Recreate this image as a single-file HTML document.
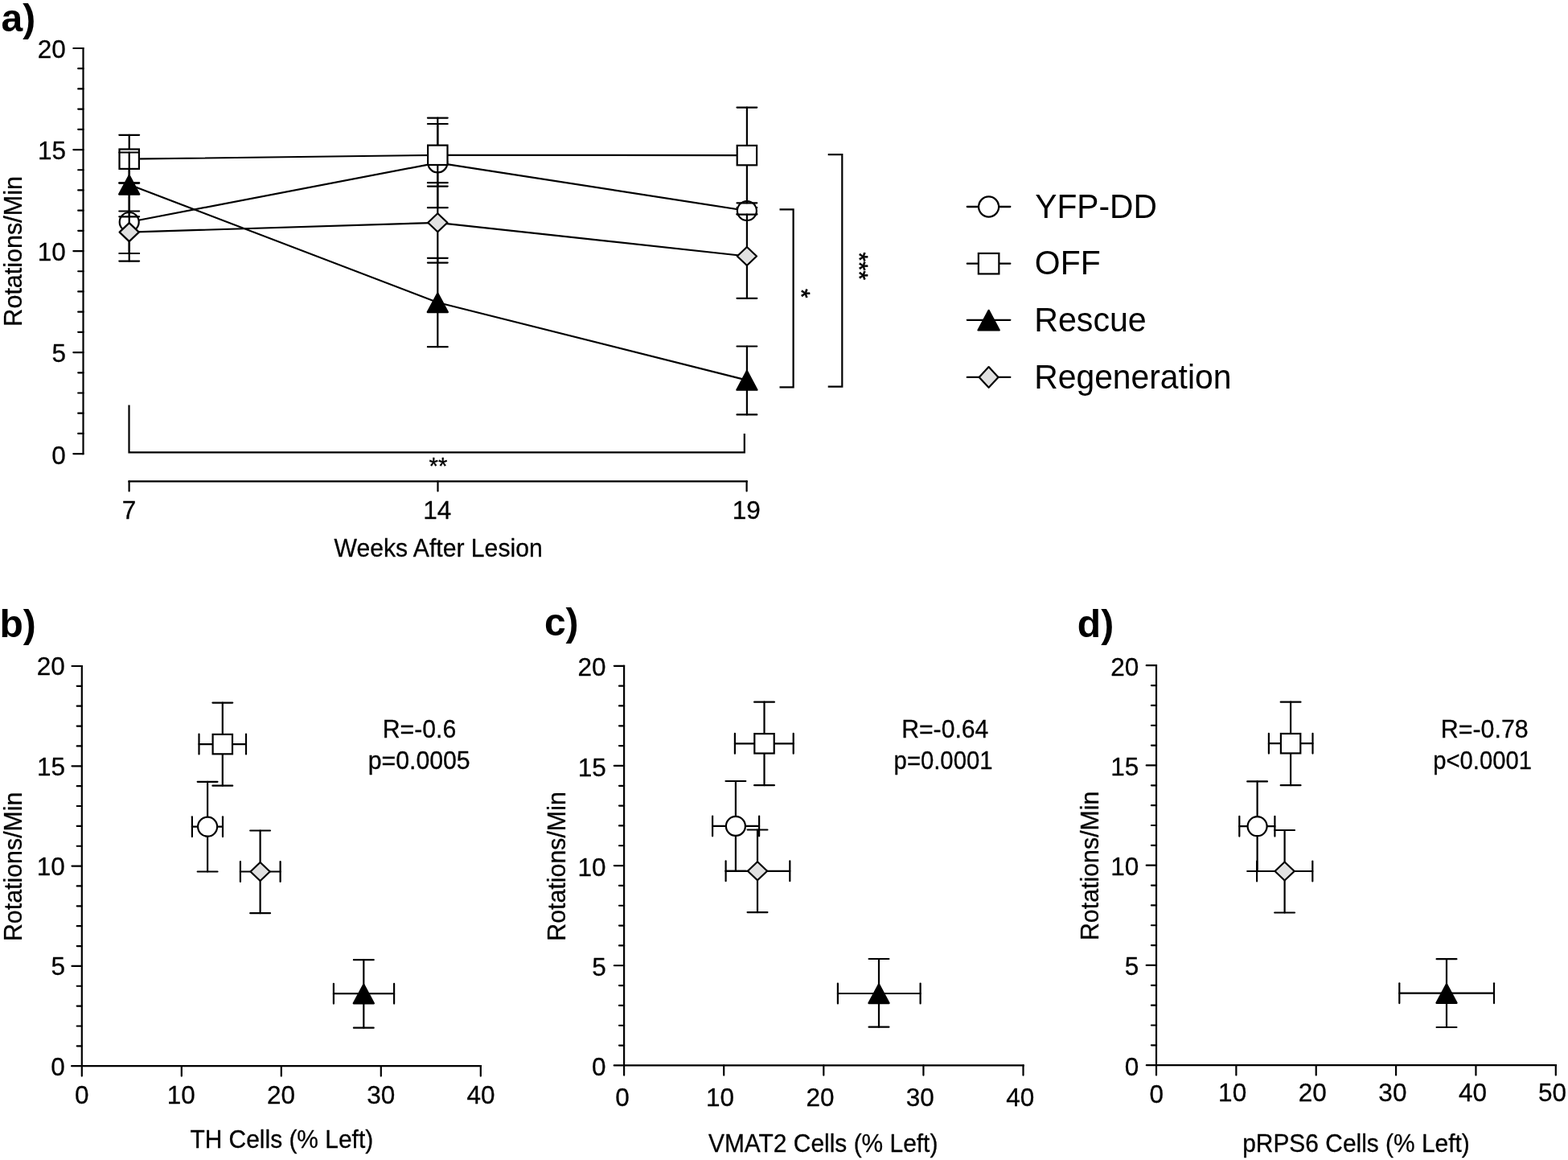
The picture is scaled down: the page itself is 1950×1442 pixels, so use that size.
<!DOCTYPE html>
<html><head><meta charset="utf-8"><title>Figure</title>
<style>html,body{margin:0;padding:0;background:#fff;} svg{display:block;}</style></head>
<body><svg width="1950" height="1442" viewBox="0 0 1950 1442">
<rect width="1950" height="1442" fill="#fff"/>
<g stroke="#000" fill="none" stroke-linecap="butt">
<line x1="103.50" y1="58.90" x2="103.50" y2="565.20" stroke-width="2.2"/>
<line x1="91.30" y1="564.10" x2="103.50" y2="564.10" stroke-width="2.2" stroke-linecap="round"/>
<line x1="97.20" y1="538.89" x2="103.50" y2="538.89" stroke-width="2.2" stroke-linecap="round"/>
<line x1="97.20" y1="513.69" x2="103.50" y2="513.69" stroke-width="2.2" stroke-linecap="round"/>
<line x1="97.20" y1="488.49" x2="103.50" y2="488.49" stroke-width="2.2" stroke-linecap="round"/>
<line x1="97.20" y1="463.28" x2="103.50" y2="463.28" stroke-width="2.2" stroke-linecap="round"/>
<line x1="91.30" y1="438.08" x2="103.50" y2="438.08" stroke-width="2.2" stroke-linecap="round"/>
<line x1="97.20" y1="412.87" x2="103.50" y2="412.87" stroke-width="2.2" stroke-linecap="round"/>
<line x1="97.20" y1="387.67" x2="103.50" y2="387.67" stroke-width="2.2" stroke-linecap="round"/>
<line x1="97.20" y1="362.46" x2="103.50" y2="362.46" stroke-width="2.2" stroke-linecap="round"/>
<line x1="97.20" y1="337.26" x2="103.50" y2="337.26" stroke-width="2.2" stroke-linecap="round"/>
<line x1="91.30" y1="312.05" x2="103.50" y2="312.05" stroke-width="2.2" stroke-linecap="round"/>
<line x1="97.20" y1="286.85" x2="103.50" y2="286.85" stroke-width="2.2" stroke-linecap="round"/>
<line x1="97.20" y1="261.64" x2="103.50" y2="261.64" stroke-width="2.2" stroke-linecap="round"/>
<line x1="97.20" y1="236.44" x2="103.50" y2="236.44" stroke-width="2.2" stroke-linecap="round"/>
<line x1="97.20" y1="211.23" x2="103.50" y2="211.23" stroke-width="2.2" stroke-linecap="round"/>
<line x1="91.30" y1="186.03" x2="103.50" y2="186.03" stroke-width="2.2" stroke-linecap="round"/>
<line x1="97.20" y1="160.82" x2="103.50" y2="160.82" stroke-width="2.2" stroke-linecap="round"/>
<line x1="97.20" y1="135.62" x2="103.50" y2="135.62" stroke-width="2.2" stroke-linecap="round"/>
<line x1="97.20" y1="110.41" x2="103.50" y2="110.41" stroke-width="2.2" stroke-linecap="round"/>
<line x1="97.20" y1="85.21" x2="103.50" y2="85.21" stroke-width="2.2" stroke-linecap="round"/>
<line x1="91.30" y1="60.00" x2="103.50" y2="60.00" stroke-width="2.2" stroke-linecap="round"/>
<line x1="159.50" y1="598.30" x2="929.70" y2="598.30" stroke-width="2.2"/>
<line x1="160.60" y1="598.30" x2="160.60" y2="610.40" stroke-width="2.2" stroke-linecap="round"/>
<line x1="544.50" y1="598.30" x2="544.50" y2="610.40" stroke-width="2.2" stroke-linecap="round"/>
<line x1="928.60" y1="598.30" x2="928.60" y2="610.40" stroke-width="2.2" stroke-linecap="round"/>
<polyline points="160.70,276.00 544.30,202.40 928.90,262.00" fill="none" stroke-width="2.2" stroke-linejoin="round"/>
<line x1="160.70" y1="227.40" x2="160.70" y2="324.60" stroke-width="2.2" stroke-linecap="round"/>
<line x1="148.30" y1="227.40" x2="173.10" y2="227.40" stroke-width="2.2" stroke-linecap="round"/>
<line x1="148.30" y1="324.60" x2="173.10" y2="324.60" stroke-width="2.2" stroke-linecap="round"/>
<line x1="544.30" y1="146.60" x2="544.30" y2="258.20" stroke-width="2.2" stroke-linecap="round"/>
<line x1="531.90" y1="146.60" x2="556.70" y2="146.60" stroke-width="2.2" stroke-linecap="round"/>
<line x1="531.90" y1="258.20" x2="556.70" y2="258.20" stroke-width="2.2" stroke-linecap="round"/>
<line x1="928.90" y1="258.00" x2="928.90" y2="266.00" stroke-width="2.2" stroke-linecap="round"/>
<line x1="916.50" y1="258.00" x2="941.30" y2="258.00" stroke-width="2.2" stroke-linecap="round"/>
<line x1="916.50" y1="266.00" x2="941.30" y2="266.00" stroke-width="2.2" stroke-linecap="round"/>
<circle cx="160.70" cy="276.00" r="12.0" fill="#fff" stroke-width="2.2"/>
<circle cx="544.30" cy="202.40" r="12.0" fill="#fff" stroke-width="2.2"/>
<circle cx="928.90" cy="262.00" r="12.0" fill="#fff" stroke-width="2.2"/>
<polyline points="160.70,197.70 544.30,192.80 928.90,193.10" fill="none" stroke-width="2.2" stroke-linejoin="round"/>
<line x1="160.70" y1="167.80" x2="160.70" y2="227.60" stroke-width="2.2" stroke-linecap="round"/>
<line x1="148.30" y1="167.80" x2="173.10" y2="167.80" stroke-width="2.2" stroke-linecap="round"/>
<line x1="148.30" y1="227.60" x2="173.10" y2="227.60" stroke-width="2.2" stroke-linecap="round"/>
<line x1="544.30" y1="154.00" x2="544.30" y2="231.60" stroke-width="2.2" stroke-linecap="round"/>
<line x1="531.90" y1="154.00" x2="556.70" y2="154.00" stroke-width="2.2" stroke-linecap="round"/>
<line x1="531.90" y1="231.60" x2="556.70" y2="231.60" stroke-width="2.2" stroke-linecap="round"/>
<line x1="928.90" y1="133.60" x2="928.90" y2="252.30" stroke-width="2.2" stroke-linecap="round"/>
<line x1="916.50" y1="133.60" x2="941.30" y2="133.60" stroke-width="2.2" stroke-linecap="round"/>
<line x1="916.50" y1="252.30" x2="941.30" y2="252.30" stroke-width="2.2" stroke-linecap="round"/>
<rect x="148.50" y="185.50" width="24.40" height="24.40" fill="#fff" stroke-width="2.2"/>
<rect x="532.10" y="180.60" width="24.40" height="24.40" fill="#fff" stroke-width="2.2"/>
<rect x="916.70" y="180.90" width="24.40" height="24.40" fill="#fff" stroke-width="2.2"/>
<polyline points="160.70,229.50 544.30,376.00 928.90,472.60" fill="none" stroke-width="2.2" stroke-linejoin="round"/>
<line x1="160.70" y1="189.50" x2="160.70" y2="269.30" stroke-width="2.2" stroke-linecap="round"/>
<line x1="148.30" y1="189.50" x2="173.10" y2="189.50" stroke-width="2.2" stroke-linecap="round"/>
<line x1="148.30" y1="269.30" x2="173.10" y2="269.30" stroke-width="2.2" stroke-linecap="round"/>
<line x1="544.30" y1="320.80" x2="544.30" y2="431.20" stroke-width="2.2" stroke-linecap="round"/>
<line x1="531.90" y1="320.80" x2="556.70" y2="320.80" stroke-width="2.2" stroke-linecap="round"/>
<line x1="531.90" y1="431.20" x2="556.70" y2="431.20" stroke-width="2.2" stroke-linecap="round"/>
<line x1="928.90" y1="430.50" x2="928.90" y2="515.40" stroke-width="2.2" stroke-linecap="round"/>
<line x1="916.50" y1="430.50" x2="941.30" y2="430.50" stroke-width="2.2" stroke-linecap="round"/>
<line x1="916.50" y1="515.40" x2="941.30" y2="515.40" stroke-width="2.2" stroke-linecap="round"/>
<path d="M160.70,218.00L173.30,241.60L148.10,241.60Z" fill="#000" stroke-width="2.2" stroke-linejoin="round"/>
<path d="M544.30,364.50L556.90,388.10L531.70,388.10Z" fill="#000" stroke-width="2.2" stroke-linejoin="round"/>
<path d="M928.90,461.10L941.50,484.70L916.30,484.70Z" fill="#000" stroke-width="2.2" stroke-linejoin="round"/>
<polyline points="160.70,288.60 544.30,276.80 928.90,318.50" fill="none" stroke-width="2.2" stroke-linejoin="round"/>
<line x1="160.70" y1="262.50" x2="160.70" y2="315.00" stroke-width="2.2" stroke-linecap="round"/>
<line x1="148.30" y1="262.50" x2="173.10" y2="262.50" stroke-width="2.2" stroke-linecap="round"/>
<line x1="148.30" y1="315.00" x2="173.10" y2="315.00" stroke-width="2.2" stroke-linecap="round"/>
<line x1="544.30" y1="227.20" x2="544.30" y2="326.60" stroke-width="2.2" stroke-linecap="round"/>
<line x1="531.90" y1="227.20" x2="556.70" y2="227.20" stroke-width="2.2" stroke-linecap="round"/>
<line x1="531.90" y1="326.60" x2="556.70" y2="326.60" stroke-width="2.2" stroke-linecap="round"/>
<line x1="928.90" y1="266.60" x2="928.90" y2="370.80" stroke-width="2.2" stroke-linecap="round"/>
<line x1="916.50" y1="266.60" x2="941.30" y2="266.60" stroke-width="2.2" stroke-linecap="round"/>
<line x1="916.50" y1="370.80" x2="941.30" y2="370.80" stroke-width="2.2" stroke-linecap="round"/>
<path d="M160.70,277.10L172.80,288.60L160.70,300.10L148.60,288.60Z" fill="#e1e1e1" stroke-width="2.2" stroke-linejoin="round"/>
<path d="M544.30,265.30L556.40,276.80L544.30,288.30L532.20,276.80Z" fill="#e1e1e1" stroke-width="2.2" stroke-linejoin="round"/>
<path d="M928.90,307.00L941.00,318.50L928.90,330.00L916.80,318.50Z" fill="#e1e1e1" stroke-width="2.2" stroke-linejoin="round"/>
<path d="M969.5,260.4H986.6V481.4H969.5" stroke-width="2.2" fill="none" />
<path d="M1029.7,192.2H1047.3V480.7H1029.7" stroke-width="2.2" fill="none" />
<path d="M160.5,503.6V562.4H925.8V538.9" stroke-width="2.2" fill="none" />
<line x1="101.80" y1="826.90" x2="101.80" y2="1325.20" stroke-width="2.2"/>
<line x1="95.70" y1="1300.34" x2="101.80" y2="1300.34" stroke-width="2.2" stroke-linecap="round"/>
<line x1="95.70" y1="1275.48" x2="101.80" y2="1275.48" stroke-width="2.2" stroke-linecap="round"/>
<line x1="95.70" y1="1250.62" x2="101.80" y2="1250.62" stroke-width="2.2" stroke-linecap="round"/>
<line x1="95.70" y1="1225.76" x2="101.80" y2="1225.76" stroke-width="2.2" stroke-linecap="round"/>
<line x1="89.50" y1="1200.90" x2="101.80" y2="1200.90" stroke-width="2.2" stroke-linecap="round"/>
<line x1="95.70" y1="1176.04" x2="101.80" y2="1176.04" stroke-width="2.2" stroke-linecap="round"/>
<line x1="95.70" y1="1151.18" x2="101.80" y2="1151.18" stroke-width="2.2" stroke-linecap="round"/>
<line x1="95.70" y1="1126.32" x2="101.80" y2="1126.32" stroke-width="2.2" stroke-linecap="round"/>
<line x1="95.70" y1="1101.46" x2="101.80" y2="1101.46" stroke-width="2.2" stroke-linecap="round"/>
<line x1="89.50" y1="1076.60" x2="101.80" y2="1076.60" stroke-width="2.2" stroke-linecap="round"/>
<line x1="95.70" y1="1051.74" x2="101.80" y2="1051.74" stroke-width="2.2" stroke-linecap="round"/>
<line x1="95.70" y1="1026.88" x2="101.80" y2="1026.88" stroke-width="2.2" stroke-linecap="round"/>
<line x1="95.70" y1="1002.02" x2="101.80" y2="1002.02" stroke-width="2.2" stroke-linecap="round"/>
<line x1="95.70" y1="977.16" x2="101.80" y2="977.16" stroke-width="2.2" stroke-linecap="round"/>
<line x1="89.50" y1="952.30" x2="101.80" y2="952.30" stroke-width="2.2" stroke-linecap="round"/>
<line x1="95.70" y1="927.44" x2="101.80" y2="927.44" stroke-width="2.2" stroke-linecap="round"/>
<line x1="95.70" y1="902.58" x2="101.80" y2="902.58" stroke-width="2.2" stroke-linecap="round"/>
<line x1="95.70" y1="877.72" x2="101.80" y2="877.72" stroke-width="2.2" stroke-linecap="round"/>
<line x1="95.70" y1="852.86" x2="101.80" y2="852.86" stroke-width="2.2" stroke-linecap="round"/>
<line x1="89.50" y1="828.00" x2="101.80" y2="828.00" stroke-width="2.2" stroke-linecap="round"/>
<line x1="89.10" y1="1325.20" x2="597.80" y2="1325.20" stroke-width="2.2" stroke-linecap="round"/>
<line x1="597.80" y1="1325.20" x2="598.90" y2="1325.20" stroke-width="2.2"/>
<line x1="101.80" y1="1325.20" x2="101.80" y2="1337.60" stroke-width="2.2" stroke-linecap="round"/>
<line x1="225.80" y1="1325.20" x2="225.80" y2="1337.60" stroke-width="2.2" stroke-linecap="round"/>
<line x1="349.80" y1="1325.20" x2="349.80" y2="1337.60" stroke-width="2.2" stroke-linecap="round"/>
<line x1="473.80" y1="1325.20" x2="473.80" y2="1337.60" stroke-width="2.2" stroke-linecap="round"/>
<line x1="597.80" y1="1325.20" x2="597.80" y2="1337.60" stroke-width="2.2" stroke-linecap="round"/>
<line x1="776.10" y1="826.70" x2="776.10" y2="1324.40" stroke-width="2.2"/>
<line x1="770.00" y1="1299.57" x2="776.10" y2="1299.57" stroke-width="2.2" stroke-linecap="round"/>
<line x1="770.00" y1="1274.74" x2="776.10" y2="1274.74" stroke-width="2.2" stroke-linecap="round"/>
<line x1="770.00" y1="1249.91" x2="776.10" y2="1249.91" stroke-width="2.2" stroke-linecap="round"/>
<line x1="770.00" y1="1225.08" x2="776.10" y2="1225.08" stroke-width="2.2" stroke-linecap="round"/>
<line x1="763.80" y1="1200.25" x2="776.10" y2="1200.25" stroke-width="2.2" stroke-linecap="round"/>
<line x1="770.00" y1="1175.42" x2="776.10" y2="1175.42" stroke-width="2.2" stroke-linecap="round"/>
<line x1="770.00" y1="1150.59" x2="776.10" y2="1150.59" stroke-width="2.2" stroke-linecap="round"/>
<line x1="770.00" y1="1125.76" x2="776.10" y2="1125.76" stroke-width="2.2" stroke-linecap="round"/>
<line x1="770.00" y1="1100.93" x2="776.10" y2="1100.93" stroke-width="2.2" stroke-linecap="round"/>
<line x1="763.80" y1="1076.10" x2="776.10" y2="1076.10" stroke-width="2.2" stroke-linecap="round"/>
<line x1="770.00" y1="1051.27" x2="776.10" y2="1051.27" stroke-width="2.2" stroke-linecap="round"/>
<line x1="770.00" y1="1026.44" x2="776.10" y2="1026.44" stroke-width="2.2" stroke-linecap="round"/>
<line x1="770.00" y1="1001.61" x2="776.10" y2="1001.61" stroke-width="2.2" stroke-linecap="round"/>
<line x1="770.00" y1="976.78" x2="776.10" y2="976.78" stroke-width="2.2" stroke-linecap="round"/>
<line x1="763.80" y1="951.95" x2="776.10" y2="951.95" stroke-width="2.2" stroke-linecap="round"/>
<line x1="770.00" y1="927.12" x2="776.10" y2="927.12" stroke-width="2.2" stroke-linecap="round"/>
<line x1="770.00" y1="902.29" x2="776.10" y2="902.29" stroke-width="2.2" stroke-linecap="round"/>
<line x1="770.00" y1="877.46" x2="776.10" y2="877.46" stroke-width="2.2" stroke-linecap="round"/>
<line x1="770.00" y1="852.63" x2="776.10" y2="852.63" stroke-width="2.2" stroke-linecap="round"/>
<line x1="763.80" y1="827.80" x2="776.10" y2="827.80" stroke-width="2.2" stroke-linecap="round"/>
<line x1="763.70" y1="1324.40" x2="1272.50" y2="1324.40" stroke-width="2.2" stroke-linecap="round"/>
<line x1="1272.50" y1="1324.40" x2="1273.60" y2="1324.40" stroke-width="2.2"/>
<line x1="776.10" y1="1324.40" x2="776.10" y2="1336.60" stroke-width="2.2" stroke-linecap="round"/>
<line x1="900.20" y1="1324.40" x2="900.20" y2="1336.60" stroke-width="2.2" stroke-linecap="round"/>
<line x1="1024.30" y1="1324.40" x2="1024.30" y2="1336.60" stroke-width="2.2" stroke-linecap="round"/>
<line x1="1148.40" y1="1324.40" x2="1148.40" y2="1336.60" stroke-width="2.2" stroke-linecap="round"/>
<line x1="1272.50" y1="1324.40" x2="1272.50" y2="1336.60" stroke-width="2.2" stroke-linecap="round"/>
<line x1="1438.00" y1="826.10" x2="1438.00" y2="1324.20" stroke-width="2.2"/>
<line x1="1431.90" y1="1299.35" x2="1438.00" y2="1299.35" stroke-width="2.2" stroke-linecap="round"/>
<line x1="1431.90" y1="1274.50" x2="1438.00" y2="1274.50" stroke-width="2.2" stroke-linecap="round"/>
<line x1="1431.90" y1="1249.65" x2="1438.00" y2="1249.65" stroke-width="2.2" stroke-linecap="round"/>
<line x1="1431.90" y1="1224.80" x2="1438.00" y2="1224.80" stroke-width="2.2" stroke-linecap="round"/>
<line x1="1425.70" y1="1199.95" x2="1438.00" y2="1199.95" stroke-width="2.2" stroke-linecap="round"/>
<line x1="1431.90" y1="1175.10" x2="1438.00" y2="1175.10" stroke-width="2.2" stroke-linecap="round"/>
<line x1="1431.90" y1="1150.25" x2="1438.00" y2="1150.25" stroke-width="2.2" stroke-linecap="round"/>
<line x1="1431.90" y1="1125.40" x2="1438.00" y2="1125.40" stroke-width="2.2" stroke-linecap="round"/>
<line x1="1431.90" y1="1100.55" x2="1438.00" y2="1100.55" stroke-width="2.2" stroke-linecap="round"/>
<line x1="1425.70" y1="1075.70" x2="1438.00" y2="1075.70" stroke-width="2.2" stroke-linecap="round"/>
<line x1="1431.90" y1="1050.85" x2="1438.00" y2="1050.85" stroke-width="2.2" stroke-linecap="round"/>
<line x1="1431.90" y1="1026.00" x2="1438.00" y2="1026.00" stroke-width="2.2" stroke-linecap="round"/>
<line x1="1431.90" y1="1001.15" x2="1438.00" y2="1001.15" stroke-width="2.2" stroke-linecap="round"/>
<line x1="1431.90" y1="976.30" x2="1438.00" y2="976.30" stroke-width="2.2" stroke-linecap="round"/>
<line x1="1425.70" y1="951.45" x2="1438.00" y2="951.45" stroke-width="2.2" stroke-linecap="round"/>
<line x1="1431.90" y1="926.60" x2="1438.00" y2="926.60" stroke-width="2.2" stroke-linecap="round"/>
<line x1="1431.90" y1="901.75" x2="1438.00" y2="901.75" stroke-width="2.2" stroke-linecap="round"/>
<line x1="1431.90" y1="876.90" x2="1438.00" y2="876.90" stroke-width="2.2" stroke-linecap="round"/>
<line x1="1431.90" y1="852.05" x2="1438.00" y2="852.05" stroke-width="2.2" stroke-linecap="round"/>
<line x1="1425.70" y1="827.20" x2="1438.00" y2="827.20" stroke-width="2.2" stroke-linecap="round"/>
<line x1="1425.80" y1="1324.20" x2="1934.80" y2="1324.20" stroke-width="2.2" stroke-linecap="round"/>
<line x1="1934.80" y1="1324.20" x2="1935.90" y2="1324.20" stroke-width="2.2"/>
<line x1="1438.00" y1="1324.20" x2="1438.00" y2="1336.40" stroke-width="2.2" stroke-linecap="round"/>
<line x1="1537.36" y1="1324.20" x2="1537.36" y2="1336.40" stroke-width="2.2" stroke-linecap="round"/>
<line x1="1636.72" y1="1324.20" x2="1636.72" y2="1336.40" stroke-width="2.2" stroke-linecap="round"/>
<line x1="1736.08" y1="1324.20" x2="1736.08" y2="1336.40" stroke-width="2.2" stroke-linecap="round"/>
<line x1="1835.44" y1="1324.20" x2="1835.44" y2="1336.40" stroke-width="2.2" stroke-linecap="round"/>
<line x1="1934.80" y1="1324.20" x2="1934.80" y2="1336.40" stroke-width="2.2" stroke-linecap="round"/>
<line x1="258.10" y1="971.80" x2="258.10" y2="1083.50" stroke-width="2.2" stroke-linecap="round"/>
<line x1="245.70" y1="971.80" x2="270.50" y2="971.80" stroke-width="2.2" stroke-linecap="round"/>
<line x1="245.70" y1="1083.50" x2="270.50" y2="1083.50" stroke-width="2.2" stroke-linecap="round"/>
<line x1="238.90" y1="1027.70" x2="277.00" y2="1027.70" stroke-width="2.2" stroke-linecap="round"/>
<line x1="238.90" y1="1015.30" x2="238.90" y2="1040.10" stroke-width="2.2" stroke-linecap="round"/>
<line x1="277.00" y1="1015.30" x2="277.00" y2="1040.10" stroke-width="2.2" stroke-linecap="round"/>
<circle cx="258.10" cy="1027.70" r="12.0" fill="#fff" stroke-width="2.2"/>
<line x1="276.80" y1="873.60" x2="276.80" y2="976.70" stroke-width="2.2" stroke-linecap="round"/>
<line x1="264.40" y1="873.60" x2="289.20" y2="873.60" stroke-width="2.2" stroke-linecap="round"/>
<line x1="264.40" y1="976.70" x2="289.20" y2="976.70" stroke-width="2.2" stroke-linecap="round"/>
<line x1="247.50" y1="925.10" x2="306.00" y2="925.10" stroke-width="2.2" stroke-linecap="round"/>
<line x1="247.50" y1="912.70" x2="247.50" y2="937.50" stroke-width="2.2" stroke-linecap="round"/>
<line x1="306.00" y1="912.70" x2="306.00" y2="937.50" stroke-width="2.2" stroke-linecap="round"/>
<rect x="264.60" y="912.90" width="24.40" height="24.40" fill="#fff" stroke-width="2.2"/>
<line x1="452.30" y1="1193.20" x2="452.30" y2="1277.70" stroke-width="2.2" stroke-linecap="round"/>
<line x1="439.90" y1="1193.20" x2="464.70" y2="1193.20" stroke-width="2.2" stroke-linecap="round"/>
<line x1="439.90" y1="1277.70" x2="464.70" y2="1277.70" stroke-width="2.2" stroke-linecap="round"/>
<line x1="414.90" y1="1235.20" x2="490.10" y2="1235.20" stroke-width="2.2" stroke-linecap="round"/>
<line x1="414.90" y1="1222.80" x2="414.90" y2="1247.60" stroke-width="2.2" stroke-linecap="round"/>
<line x1="490.10" y1="1222.80" x2="490.10" y2="1247.60" stroke-width="2.2" stroke-linecap="round"/>
<path d="M452.30,1223.70L464.90,1247.30L439.70,1247.30Z" fill="#000" stroke-width="2.2" stroke-linejoin="round"/>
<line x1="323.60" y1="1032.50" x2="323.60" y2="1135.20" stroke-width="2.2" stroke-linecap="round"/>
<line x1="311.20" y1="1032.50" x2="336.00" y2="1032.50" stroke-width="2.2" stroke-linecap="round"/>
<line x1="311.20" y1="1135.20" x2="336.00" y2="1135.20" stroke-width="2.2" stroke-linecap="round"/>
<line x1="298.90" y1="1083.50" x2="348.60" y2="1083.50" stroke-width="2.2" stroke-linecap="round"/>
<line x1="298.90" y1="1071.10" x2="298.90" y2="1095.90" stroke-width="2.2" stroke-linecap="round"/>
<line x1="348.60" y1="1071.10" x2="348.60" y2="1095.90" stroke-width="2.2" stroke-linecap="round"/>
<path d="M323.60,1072.00L335.70,1083.50L323.60,1095.00L311.50,1083.50Z" fill="#e1e1e1" stroke-width="2.2" stroke-linejoin="round"/>
<line x1="914.90" y1="971.00" x2="914.90" y2="1082.80" stroke-width="2.2" stroke-linecap="round"/>
<line x1="902.50" y1="971.00" x2="927.30" y2="971.00" stroke-width="2.2" stroke-linecap="round"/>
<line x1="902.50" y1="1082.80" x2="927.30" y2="1082.80" stroke-width="2.2" stroke-linecap="round"/>
<line x1="886.10" y1="1026.90" x2="944.10" y2="1026.90" stroke-width="2.2" stroke-linecap="round"/>
<line x1="886.10" y1="1014.50" x2="886.10" y2="1039.30" stroke-width="2.2" stroke-linecap="round"/>
<line x1="944.10" y1="1014.50" x2="944.10" y2="1039.30" stroke-width="2.2" stroke-linecap="round"/>
<circle cx="914.90" cy="1026.90" r="12.0" fill="#fff" stroke-width="2.2"/>
<line x1="950.50" y1="872.70" x2="950.50" y2="976.20" stroke-width="2.2" stroke-linecap="round"/>
<line x1="938.10" y1="872.70" x2="962.90" y2="872.70" stroke-width="2.2" stroke-linecap="round"/>
<line x1="938.10" y1="976.20" x2="962.90" y2="976.20" stroke-width="2.2" stroke-linecap="round"/>
<line x1="913.90" y1="924.30" x2="986.70" y2="924.30" stroke-width="2.2" stroke-linecap="round"/>
<line x1="913.90" y1="911.90" x2="913.90" y2="936.70" stroke-width="2.2" stroke-linecap="round"/>
<line x1="986.70" y1="911.90" x2="986.70" y2="936.70" stroke-width="2.2" stroke-linecap="round"/>
<rect x="938.30" y="912.10" width="24.40" height="24.40" fill="#fff" stroke-width="2.2"/>
<line x1="1093.00" y1="1192.00" x2="1093.00" y2="1276.70" stroke-width="2.2" stroke-linecap="round"/>
<line x1="1080.60" y1="1192.00" x2="1105.40" y2="1192.00" stroke-width="2.2" stroke-linecap="round"/>
<line x1="1080.60" y1="1276.70" x2="1105.40" y2="1276.70" stroke-width="2.2" stroke-linecap="round"/>
<line x1="1041.90" y1="1235.00" x2="1144.60" y2="1235.00" stroke-width="2.2" stroke-linecap="round"/>
<line x1="1041.90" y1="1222.60" x2="1041.90" y2="1247.40" stroke-width="2.2" stroke-linecap="round"/>
<line x1="1144.60" y1="1222.60" x2="1144.60" y2="1247.40" stroke-width="2.2" stroke-linecap="round"/>
<path d="M1093.00,1223.50L1105.60,1247.10L1080.40,1247.10Z" fill="#000" stroke-width="2.2" stroke-linejoin="round"/>
<line x1="942.00" y1="1031.50" x2="942.00" y2="1134.10" stroke-width="2.2" stroke-linecap="round"/>
<line x1="929.60" y1="1031.50" x2="954.40" y2="1031.50" stroke-width="2.2" stroke-linecap="round"/>
<line x1="929.60" y1="1134.10" x2="954.40" y2="1134.10" stroke-width="2.2" stroke-linecap="round"/>
<line x1="902.60" y1="1082.80" x2="982.30" y2="1082.80" stroke-width="2.2" stroke-linecap="round"/>
<line x1="902.60" y1="1070.40" x2="902.60" y2="1095.20" stroke-width="2.2" stroke-linecap="round"/>
<line x1="982.30" y1="1070.40" x2="982.30" y2="1095.20" stroke-width="2.2" stroke-linecap="round"/>
<path d="M942.00,1071.30L954.10,1082.80L942.00,1094.30L929.90,1082.80Z" fill="#e1e1e1" stroke-width="2.2" stroke-linejoin="round"/>
<line x1="1563.60" y1="971.40" x2="1563.60" y2="1083.00" stroke-width="2.2" stroke-linecap="round"/>
<line x1="1551.20" y1="971.40" x2="1576.00" y2="971.40" stroke-width="2.2" stroke-linecap="round"/>
<line x1="1551.20" y1="1083.00" x2="1576.00" y2="1083.00" stroke-width="2.2" stroke-linecap="round"/>
<line x1="1541.30" y1="1027.20" x2="1585.40" y2="1027.20" stroke-width="2.2" stroke-linecap="round"/>
<line x1="1541.30" y1="1014.80" x2="1541.30" y2="1039.60" stroke-width="2.2" stroke-linecap="round"/>
<line x1="1585.40" y1="1014.80" x2="1585.40" y2="1039.60" stroke-width="2.2" stroke-linecap="round"/>
<circle cx="1563.60" cy="1027.20" r="12.0" fill="#fff" stroke-width="2.2"/>
<line x1="1605.10" y1="872.70" x2="1605.10" y2="976.20" stroke-width="2.2" stroke-linecap="round"/>
<line x1="1592.70" y1="872.70" x2="1617.50" y2="872.70" stroke-width="2.2" stroke-linecap="round"/>
<line x1="1592.70" y1="976.20" x2="1617.50" y2="976.20" stroke-width="2.2" stroke-linecap="round"/>
<line x1="1577.90" y1="924.20" x2="1632.50" y2="924.20" stroke-width="2.2" stroke-linecap="round"/>
<line x1="1577.90" y1="911.80" x2="1577.90" y2="936.60" stroke-width="2.2" stroke-linecap="round"/>
<line x1="1632.50" y1="911.80" x2="1632.50" y2="936.60" stroke-width="2.2" stroke-linecap="round"/>
<rect x="1592.90" y="912.00" width="24.40" height="24.40" fill="#fff" stroke-width="2.2"/>
<line x1="1799.00" y1="1192.20" x2="1799.00" y2="1277.00" stroke-width="2.2" stroke-linecap="round"/>
<line x1="1786.60" y1="1192.20" x2="1811.40" y2="1192.20" stroke-width="2.2" stroke-linecap="round"/>
<line x1="1786.60" y1="1277.00" x2="1811.40" y2="1277.00" stroke-width="2.2" stroke-linecap="round"/>
<line x1="1740.30" y1="1234.70" x2="1858.00" y2="1234.70" stroke-width="2.2" stroke-linecap="round"/>
<line x1="1740.30" y1="1222.30" x2="1740.30" y2="1247.10" stroke-width="2.2" stroke-linecap="round"/>
<line x1="1858.00" y1="1222.30" x2="1858.00" y2="1247.10" stroke-width="2.2" stroke-linecap="round"/>
<path d="M1799.00,1223.20L1811.60,1246.80L1786.40,1246.80Z" fill="#000" stroke-width="2.2" stroke-linejoin="round"/>
<line x1="1597.60" y1="1032.00" x2="1597.60" y2="1134.50" stroke-width="2.2" stroke-linecap="round"/>
<line x1="1585.20" y1="1032.00" x2="1610.00" y2="1032.00" stroke-width="2.2" stroke-linecap="round"/>
<line x1="1585.20" y1="1134.50" x2="1610.00" y2="1134.50" stroke-width="2.2" stroke-linecap="round"/>
<line x1="1563.10" y1="1083.00" x2="1632.30" y2="1083.00" stroke-width="2.2" stroke-linecap="round"/>
<line x1="1563.10" y1="1070.60" x2="1563.10" y2="1095.40" stroke-width="2.2" stroke-linecap="round"/>
<line x1="1632.30" y1="1070.60" x2="1632.30" y2="1095.40" stroke-width="2.2" stroke-linecap="round"/>
<path d="M1597.60,1071.50L1609.70,1083.00L1597.60,1094.50L1585.50,1083.00Z" fill="#e1e1e1" stroke-width="2.2" stroke-linejoin="round"/>
<line x1="1202.80" y1="257.00" x2="1256.30" y2="257.00" stroke-width="2.3" stroke-linecap="round"/>
<circle cx="1229.60" cy="257.00" r="12.54" fill="#fff" stroke-width="2.2"/>
<line x1="1202.80" y1="327.70" x2="1256.30" y2="327.70" stroke-width="2.3" stroke-linecap="round"/>
<rect x="1216.85" y="314.95" width="25.50" height="25.50" fill="#fff" stroke-width="2.2"/>
<line x1="1202.80" y1="397.80" x2="1256.30" y2="397.80" stroke-width="2.3" stroke-linecap="round"/>
<path d="M1229.60,385.78L1242.77,410.44L1216.43,410.44Z" fill="#000" stroke-width="2.2" stroke-linejoin="round"/>
<line x1="1202.80" y1="468.90" x2="1256.30" y2="468.90" stroke-width="2.3" stroke-linecap="round"/>
<path d="M1229.60,456.05L1241.50,468.90L1229.60,481.75L1217.70,468.90Z" fill="#e1e1e1" stroke-width="2.2" stroke-linejoin="round"/>
<g font-family="'Liberation Sans', Arial, Helvetica, sans-serif" fill="#000" stroke="none">
<text transform="translate(1.59,38.60)" font-size="48" font-weight="bold">a)</text>
<text transform="translate(-0.56,792.30)" font-size="48" font-weight="bold">b)</text>
<text transform="translate(676.92,790.40)" font-size="48" font-weight="bold">c)</text>
<text transform="translate(1339.83,792.40)" font-size="48" font-weight="bold">d)</text>
<text transform="translate(46.79,72.40)" font-size="31.5" stroke="#000" stroke-width="0.3" stroke-linejoin="round">20</text>
<text transform="translate(46.89,198.43)" font-size="31.5" stroke="#000" stroke-width="0.3" stroke-linejoin="round">15</text>
<text transform="translate(46.79,324.45)" font-size="31.5" stroke="#000" stroke-width="0.3" stroke-linejoin="round">10</text>
<text transform="translate(64.40,450.48)" font-size="31.5" stroke="#000" stroke-width="0.3" stroke-linejoin="round">5</text>
<text transform="translate(64.31,576.50)" font-size="31.5" stroke="#000" stroke-width="0.3" stroke-linejoin="round">0</text>
<text transform="translate(26.80,405.66) rotate(-90) scale(0.9700,1)" font-size="31.5" stroke="#000" stroke-width="0.3" stroke-linejoin="round">Rotations/Min</text>
<text transform="translate(151.83,645.00)" font-size="31.5" stroke="#000" stroke-width="0.3" stroke-linejoin="round">7</text>
<text transform="translate(526.24,645.00)" font-size="31.5" stroke="#000" stroke-width="0.3" stroke-linejoin="round">14</text>
<text transform="translate(910.63,645.00)" font-size="31.5" stroke="#000" stroke-width="0.3" stroke-linejoin="round">19</text>
<text transform="translate(415.53,692.30) scale(0.9570,1)" font-size="31.5" stroke="#000" stroke-width="0.3" stroke-linejoin="round">Weeks After Lesion</text>
<g stroke="#000" stroke-width="0.7" stroke-linejoin="round">
<text transform="translate(533.41,589.00)" font-size="29.5" stroke="#000" stroke-width="0.3" stroke-linejoin="round">**</text>
</g>
<text transform="translate(1287.30,270.90) scale(0.9747,1)" font-size="41.8">YFP-DD</text>
<text transform="translate(1286.86,341.40) scale(0.9784,1)" font-size="41.8">OFF</text>
<text transform="translate(1286.22,411.60) scale(0.9850,1)" font-size="41.8">Rescue</text>
<text transform="translate(1286.25,482.80) scale(0.9770,1)" font-size="41.8">Regeneration</text>
<text transform="translate(45.79,839.30)" font-size="31.5" stroke="#000" stroke-width="0.3" stroke-linejoin="round">20</text>
<text transform="translate(45.89,963.60)" font-size="31.5" stroke="#000" stroke-width="0.3" stroke-linejoin="round">15</text>
<text transform="translate(45.79,1087.90)" font-size="31.5" stroke="#000" stroke-width="0.3" stroke-linejoin="round">10</text>
<text transform="translate(63.40,1212.20)" font-size="31.5" stroke="#000" stroke-width="0.3" stroke-linejoin="round">5</text>
<text transform="translate(63.31,1336.50)" font-size="31.5" stroke="#000" stroke-width="0.3" stroke-linejoin="round">0</text>
<text transform="translate(718.59,840.40)" font-size="31.5" stroke="#000" stroke-width="0.3" stroke-linejoin="round">20</text>
<text transform="translate(718.69,964.55)" font-size="31.5" stroke="#000" stroke-width="0.3" stroke-linejoin="round">15</text>
<text transform="translate(718.59,1088.70)" font-size="31.5" stroke="#000" stroke-width="0.3" stroke-linejoin="round">10</text>
<text transform="translate(736.20,1212.85)" font-size="31.5" stroke="#000" stroke-width="0.3" stroke-linejoin="round">5</text>
<text transform="translate(736.11,1337.00)" font-size="31.5" stroke="#000" stroke-width="0.3" stroke-linejoin="round">0</text>
<text transform="translate(1381.19,839.70)" font-size="31.5" stroke="#000" stroke-width="0.3" stroke-linejoin="round">20</text>
<text transform="translate(1381.29,963.95)" font-size="31.5" stroke="#000" stroke-width="0.3" stroke-linejoin="round">15</text>
<text transform="translate(1381.19,1088.20)" font-size="31.5" stroke="#000" stroke-width="0.3" stroke-linejoin="round">10</text>
<text transform="translate(1398.80,1212.45)" font-size="31.5" stroke="#000" stroke-width="0.3" stroke-linejoin="round">5</text>
<text transform="translate(1398.71,1336.70)" font-size="31.5" stroke="#000" stroke-width="0.3" stroke-linejoin="round">0</text>
<text transform="translate(27.00,1170.08) rotate(-90) scale(0.9640,1)" font-size="31.5" stroke="#000" stroke-width="0.3" stroke-linejoin="round">Rotations/Min</text>
<text transform="translate(703.00,1169.78) rotate(-90) scale(0.9640,1)" font-size="31.5" stroke="#000" stroke-width="0.3" stroke-linejoin="round">Rotations/Min</text>
<text transform="translate(1366.00,1169.08) rotate(-90) scale(0.9640,1)" font-size="31.5" stroke="#000" stroke-width="0.3" stroke-linejoin="round">Rotations/Min</text>
<text transform="translate(93.04,1372.30)" font-size="31.5" stroke="#000" stroke-width="0.3" stroke-linejoin="round">0</text>
<text transform="translate(207.70,1372.30)" font-size="31.5" stroke="#000" stroke-width="0.3" stroke-linejoin="round">10</text>
<text transform="translate(332.10,1372.30)" font-size="31.5" stroke="#000" stroke-width="0.3" stroke-linejoin="round">20</text>
<text transform="translate(456.30,1372.30)" font-size="31.5" stroke="#000" stroke-width="0.3" stroke-linejoin="round">30</text>
<text transform="translate(580.53,1372.30)" font-size="31.5" stroke="#000" stroke-width="0.3" stroke-linejoin="round">40</text>
<text transform="translate(765.14,1374.60)" font-size="31.5" stroke="#000" stroke-width="0.3" stroke-linejoin="round">0</text>
<text transform="translate(878.00,1374.60)" font-size="31.5" stroke="#000" stroke-width="0.3" stroke-linejoin="round">10</text>
<text transform="translate(1002.50,1374.60)" font-size="31.5" stroke="#000" stroke-width="0.3" stroke-linejoin="round">20</text>
<text transform="translate(1126.80,1374.60)" font-size="31.5" stroke="#000" stroke-width="0.3" stroke-linejoin="round">30</text>
<text transform="translate(1251.13,1374.60)" font-size="31.5" stroke="#000" stroke-width="0.3" stroke-linejoin="round">40</text>
<text transform="translate(1429.44,1371.30)" font-size="31.5" stroke="#000" stroke-width="0.3" stroke-linejoin="round">0</text>
<text transform="translate(1515.12,1369.40)" font-size="31.5" stroke="#000" stroke-width="0.3" stroke-linejoin="round">10</text>
<text transform="translate(1614.84,1369.40)" font-size="31.5" stroke="#000" stroke-width="0.3" stroke-linejoin="round">20</text>
<text transform="translate(1714.36,1369.40)" font-size="31.5" stroke="#000" stroke-width="0.3" stroke-linejoin="round">30</text>
<text transform="translate(1813.91,1369.40)" font-size="31.5" stroke="#000" stroke-width="0.3" stroke-linejoin="round">40</text>
<text transform="translate(1912.97,1369.40)" font-size="31.5" stroke="#000" stroke-width="0.3" stroke-linejoin="round">50</text>
<text transform="translate(236.39,1427.20) scale(0.9500,1)" font-size="31.5" stroke="#000" stroke-width="0.3" stroke-linejoin="round">TH Cells (% Left)</text>
<text transform="translate(880.97,1431.70) scale(0.9500,1)" font-size="31.5" stroke="#000" stroke-width="0.3" stroke-linejoin="round">VMAT2 Cells (% Left)</text>
<text transform="translate(1545.15,1431.60) scale(0.9500,1)" font-size="31.5" stroke="#000" stroke-width="0.3" stroke-linejoin="round">pRPS6 Cells (% Left)</text>
<text transform="translate(475.82,917.40) scale(0.9589,1)" font-size="31.5" stroke="#000" stroke-width="0.3" stroke-linejoin="round">R=-0.6</text>
<text transform="translate(457.65,956.40) scale(0.9612,1)" font-size="31.5" stroke="#000" stroke-width="0.3" stroke-linejoin="round">p=0.0005</text>
<text transform="translate(1121.23,917.40) scale(0.9576,1)" font-size="31.5" stroke="#000" stroke-width="0.3" stroke-linejoin="round">R=-0.64</text>
<text transform="translate(1111.61,956.40) scale(0.9294,1)" font-size="31.5" stroke="#000" stroke-width="0.3" stroke-linejoin="round">p=0.0001</text>
<text transform="translate(1791.81,917.40) scale(0.9643,1)" font-size="31.5" stroke="#000" stroke-width="0.3" stroke-linejoin="round">R=-0.78</text>
<text transform="translate(1782.32,956.40) scale(0.9270,1)" font-size="31.5" stroke="#000" stroke-width="0.3" stroke-linejoin="round">p&lt;0.0001</text>
</g>
<g font-family="'Liberation Sans', Arial, Helvetica, sans-serif" fill="#000" stroke="#000" stroke-width="0.7" stroke-linejoin="round">
<text transform="translate(986.9,364.7) rotate(90)" font-size="29.5" text-anchor="middle">*</text>
<text transform="translate(1058.5,330.8) rotate(90)" font-size="29.5" text-anchor="middle">***</text>
</g>
</g></svg></body></html>
